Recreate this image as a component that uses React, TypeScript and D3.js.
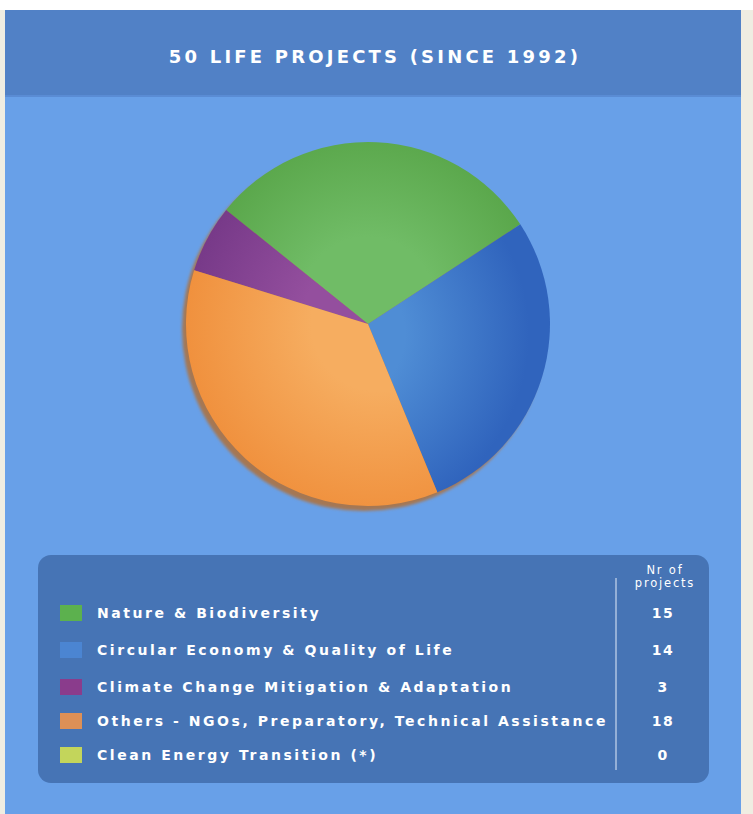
import React from "react";
import * as d3 from "d3";

const title = "50 LIFE PROJECTS (SINCE 1992)";
const categories = [
  "Nature & Biodiversity",
  "Circular Economy & Quality of Life",
  "Climate Change Mitigation & Adaptation",
  "Others - NGOs, Preparatory, Technical Assistance",
  "Clean Energy Transition (*)",
];
const values = [15, 14, 3, 18, 0];
const swatchColors = ["#5cb14e", "#4b85d2", "#8a3c8c", "#dd9057", "#c3d55b"];
const sliceInner = ["#70bc66", "#4f8dd5", "#944f9e", "#f6ad60", "#c3d55b"];
const sliceOuter = ["#56a346", "#3064bd", "#753887", "#f0913e", "#b8ca4f"];
const pieOrder = [0, 1, 3, 2, 4];
const columnHeader = ["Nr of", "projects"];

const W = 753;
const H = 814;

export default function App() {
  const cx = 368;
  const cy = 324;
  const r = 182;
  const startDeg = -51.2;
  const pie = d3
    .pie<number>()
    .value((i) => values[i])
    .sort((a, b) => pieOrder.indexOf(a) - pieOrder.indexOf(b))
    .startAngle((startDeg * Math.PI) / 180)
    .endAngle((startDeg * Math.PI) / 180 + 2 * Math.PI);
  const arcs = pie(categories.map((_, i) => i));
  const arc = d3.arc<d3.PieArcDatum<number>>().innerRadius(0).outerRadius(r);

  const legendX = 38;
  const legendY = 555;
  const legendW = 671;
  const legendH = 228;
  const rowYs = [613, 650, 687, 721, 755];

  const font = "'DejaVu Sans', Verdana, sans-serif";
  const gradCenters: [number, number][] = [
    [0, -20],
    [-30, 10],
    [0, 0],
    [10, 0],
    [0, 0],
  ];

  return (
    <svg width={W} height={H} style={{ position: "absolute", left: 0, top: 0 }}>
      <defs>
        {categories.map((_, i) => (
          <radialGradient
            key={i}
            id={`g${i}`}
            gradientUnits="userSpaceOnUse"
            cx={gradCenters[i][0]}
            cy={gradCenters[i][1]}
            r={r * 1.05}
          >
            <stop offset="0" stopColor={sliceInner[i]} />
            <stop offset="0.35" stopColor={sliceInner[i]} />
            <stop offset="1" stopColor={sliceOuter[i]} />
          </radialGradient>
        ))}
        <filter id="blur" x="-10%" y="-10%" width="120%" height="120%">
          <feGaussianBlur stdDeviation="1.5" />
        </filter>
      </defs>
      <rect x={0} y={0} width={W} height={H} fill="#efede2" />
      <rect x={0} y={0} width={W} height={10} fill="#ffffff" />
      <rect x={5} y={10} width={736} height={H - 10} fill="#68a0e8" />
      <rect x={5} y={10} width={736} height={87} fill="#5181c6" />
      <rect x={5} y={95} width={736} height={2} fill="#5a8cd4" />
      <text
        x={375}
        y={63}
        textAnchor="middle"
        fill="#ffffff"
        fontFamily={font}
        fontSize={18}
        fontWeight="bold"
        letterSpacing={3.2}
      >
        {title}
      </text>

      <circle cx={cx - 4} cy={cy + 5} r={r} fill="#a57752" filter="url(#blur)" />
      <g transform={`translate(${cx},${cy})`}>
        {arcs
          .filter((a) => a.endAngle > a.startAngle)
          .map((a) => (
            <path key={a.data} d={arc(a) || ""} fill={`url(#g${a.data})`} />
          ))}
      </g>

      <rect x={legendX} y={legendY} width={legendW} height={legendH} rx={13} fill="#4674b5" />
      <line x1={616} x2={616} y1={578} y2={770} stroke="#c9d8ee" strokeWidth={1.2} />
      {columnHeader.map((t, i) => (
        <text
          key={t}
          x={665}
          y={574 + i * 13}
          textAnchor="middle"
          fill="#ffffff"
          fontFamily={font}
          fontSize={11.5}
          letterSpacing={1.8}
        >
          {t}
        </text>
      ))}
      {categories.map((c, i) => {
        const y = rowYs[i];
        return (
          <g key={c}>
            <rect x={60} y={y - 8} width={22} height={16} fill={swatchColors[i]} />
            <text
              x={97}
              y={y + 5}
              fill="#ffffff"
              fontFamily={font}
              fontSize={14}
              fontWeight="bold"
              letterSpacing={2.55}
            >
              {c}
            </text>
            <text
              x={663}
              y={y + 5}
              textAnchor="middle"
              fill="#ffffff"
              fontFamily={font}
              fontSize={14}
              fontWeight="bold"
              letterSpacing={1.5}
            >
              {values[i]}
            </text>
          </g>
        );
      })}
    </svg>
  );
}
